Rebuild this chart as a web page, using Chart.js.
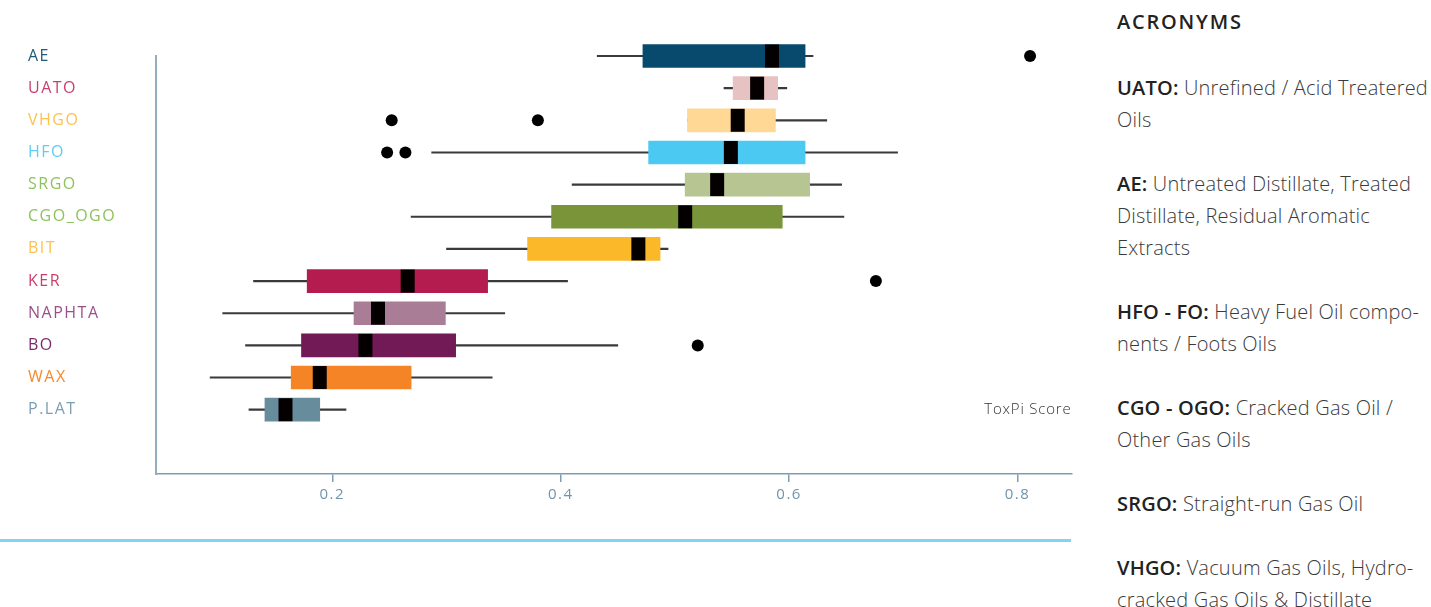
<!DOCTYPE html>
<html>
<head>
<meta charset="utf-8">
<script src="https://cdn.jsdelivr.net/npm/chart.js@4/dist/chart.umd.min.js"></script>
<style>
  body { margin: 0; background: #fff; font-family: 'Open Sans', sans-serif; }
  #wrap { position: relative; width: 1431px; height: 607px; overflow: hidden; }
  #chartBox { position: absolute; left: 0; top: 0; width: 1097px; height: 520px; }
  #rule { position: absolute; left: 0; top: 539px; width: 1071px; height: 3px; background: #84d4ef; }
  #acronyms { position: absolute; left: 1117px; top: 0; width: 314px; color: #3a3a3a; }
  #acronyms h3 { margin: 0; position: absolute; top: 8px; font-size: 20px; line-height: 28px; font-weight: 600; letter-spacing: 1.8px; color: #222; white-space: nowrap; }
  #acronyms .list { position: absolute; top: 72px; }
  #acronyms p { margin: 0 0 32px; font-size: 20px; line-height: 32px; font-weight: 300; letter-spacing: 0.2px; white-space: nowrap; }
  #acronyms b { font-weight: 600; color: #222; }
</style>
</head>
<body>
<div id="wrap">
  <div id="chartBox"><canvas id="boxChart"></canvas></div>
  <div id="rule"></div>
  <div id="acronyms">
    <h3>ACRONYMS</h3>
    <div class="list">
      <p><b>UATO:</b> Unrefined / Acid Treatered<br>Oils</p>
      <p><b>AE:</b> Untreated Distillate, Treated<br>Distillate, Residual Aromatic<br>Extracts</p>
      <p><b>HFO - FO:</b> Heavy Fuel Oil compo-<br>nents / Foots Oils</p>
      <p><b>CGO - OGO:</b> Cracked Gas Oil /<br>Other Gas Oils</p>
      <p><b>SRGO:</b> Straight-run Gas Oil</p>
      <p><b>VHGO:</b> Vacuum Gas Oils, Hydro-<br>cracked Gas Oils &amp; Distillate</p>
    </div>
  </div>
</div>
<script>
const categories = ['AE', 'UATO', 'VHGO', 'HFO', 'SRGO', 'CGO_OGO', 'BIT', 'KER', 'NAPHTA', 'BO', 'WAX', 'P.LAT'];
const whiskerLow = [0.432, 0.543, 0.511, 0.287, 0.410, 0.269, 0.300, 0.131, 0.104, 0.124, 0.093, 0.127];
const q1 = [0.472, 0.551, 0.511, 0.477, 0.509, 0.392, 0.371, 0.178, 0.219, 0.173, 0.164, 0.141];
const medians = [0.585, 0.572, 0.555, 0.549, 0.537, 0.509, 0.468, 0.266, 0.240, 0.229, 0.189, 0.159];
const q3 = [0.614, 0.590, 0.588, 0.614, 0.618, 0.594, 0.487, 0.336, 0.299, 0.308, 0.269, 0.189];
const whiskerHigh = [0.621, 0.598, 0.633, 0.695, 0.646, 0.648, 0.494, 0.406, 0.351, 0.450, 0.340, 0.212];

const outlierCategories = ['AE', 'VHGO', 'VHGO', 'HFO', 'HFO', 'KER', 'BO'];
const outlierValues = [0.811, 0.252, 0.380, 0.248, 0.264, 0.676, 0.520];

const xTicks = [0.2, 0.4, 0.6, 0.8];

const boxColors = ['#074a6e', '#e6c2c2', '#fed894', '#4cc9f3', '#b7c592', '#7a9539', '#fbb829', '#b41c50', '#a87d95', '#721a55', '#f48425', '#678d9d'];
const labelColors = ['#1f5a7a', '#c8416b', '#fcc24f', '#5ccdf4', '#8cc35a', '#8cc35a', '#fcc24f', '#cc3f6a', '#9b4e8a', '#7a2a6a', '#f48a2c', '#7b9fb1'];

// wider tracking for all canvas text, plus the "ToxPi Score" caption on the last row
const textStyle = {
  id: 'textStyle',
  beforeDraw(chart) {
    chart.ctx.letterSpacing = '1.5px';
  },
  afterDraw(chart) {
    const { ctx, chartArea, scales } = chart;
    ctx.save();
    ctx.letterSpacing = '0.8px';
    ctx.font = '300 15px "Open Sans", sans-serif';
    ctx.fillStyle = '#333';
    ctx.textAlign = 'right';
    ctx.textBaseline = 'middle';
    ctx.fillText('ToxPi Score', chartArea.right, scales.y.getPixelForValue(categories.length - 1));
    ctx.restore();
    ctx.letterSpacing = '0px';
  },
};

const ctx = document.getElementById('boxChart').getContext('2d');
new Chart(ctx, {
  type: 'bar',
  data: {
    labels: categories.concat(['', '']),
    datasets: [
      {
        type: 'scatter',
        label: 'Outliers',
        data: outlierCategories.map((c, i) => ({ x: outlierValues[i], y: c })),
        backgroundColor: '#000',
        borderWidth: 0,
        pointRadius: 6,
        order: 0,
        clip: false,
      },
      {
        type: 'scatter',
        label: 'Median',
        data: categories.map((c, i) => ({ x: medians[i], y: c })),
        pointStyle: 'line',
        rotation: 90,
        pointRadius: 11.5,
        borderWidth: 14,
        borderColor: '#050000',
        order: 1,
        clip: false,
      },
      {
        label: 'IQR',
        data: categories.map((c, i) => [q1[i], q3[i]]),
        backgroundColor: boxColors,
        barThickness: 23,
        grouped: false,
        order: 2,
        clip: false,
      },
      {
        label: 'Range',
        data: categories.map((c, i) => [whiskerLow[i], whiskerHigh[i]]),
        backgroundColor: '#3a3a3a',
        barThickness: 1.5,
        grouped: false,
        order: 3,
        clip: false,
      },
    ],
  },
  options: {
    indexAxis: 'y',
    responsive: true,
    maintainAspectRatio: false,
    animation: false,
    events: [],
    layout: { padding: { left: 28, top: 56, right: 8, bottom: 0 } },
    plugins: {
      legend: { display: false },
      tooltip: { enabled: false },
    },
    scales: {
      x: {
        type: 'linear',
        min: 0.0456,
        max: 0.8473,
        afterFit: (scale) => { scale.height = 46; },
        afterBuildTicks: (scale) => { scale.ticks = xTicks.map((v) => ({ value: v })); },
        grid: { drawOnChartArea: false, drawTicks: true, tickLength: 8, color: '#7e9eb0', lineWidth: 1.5 },
        border: { display: true, color: '#7e9eb0', width: 1.5 },
        ticks: {
          padding: 4,
          color: '#7094aa',
          font: { family: 'Open Sans', size: 15 },
          callback: (v) => v.toFixed(1),
        },
      },
      y: {
        type: 'category',
        offset: false,
        afterFit: (scale) => { scale.width = 128; },
        grid: { display: false },
        border: { display: true, color: '#93afbf', width: 2 },
        ticks: {
          autoSkip: false,
          crossAlign: 'far',
          color: (c) => labelColors[c.index] || '#fff',
          font: { family: 'Open Sans', size: 16 },
        },
      },
    },
  },
  plugins: [textStyle],
});
</script>
</body>
</html>
